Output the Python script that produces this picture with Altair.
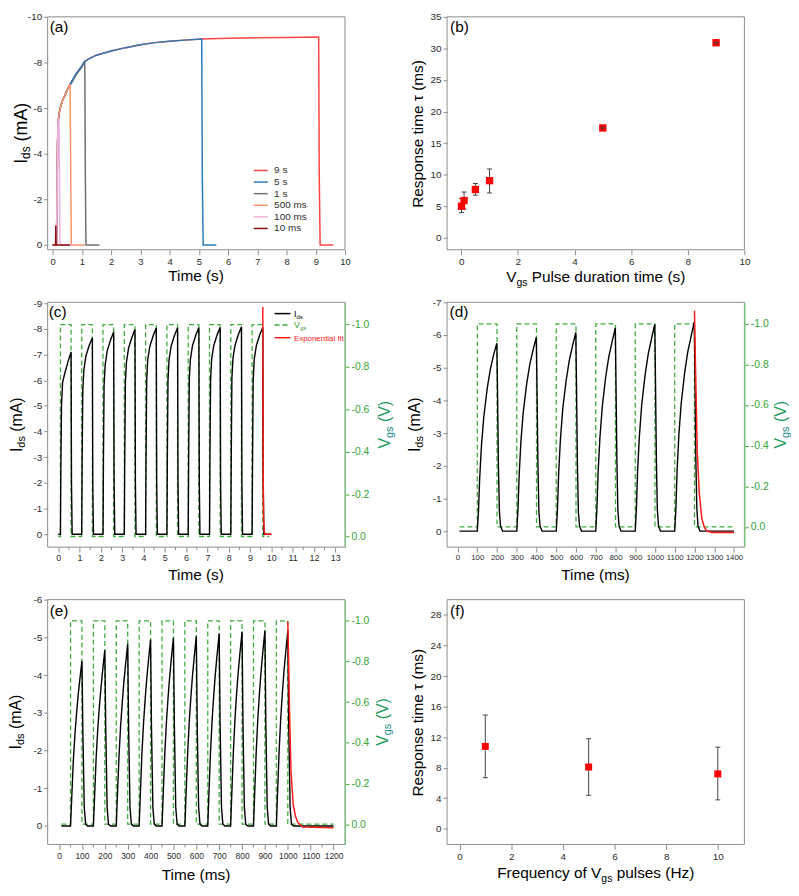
import altair as alt
import pandas as pd

FONT = "Liberation Sans"
FRAME = "#8c8c8c"
TICKLAB = "#2b2b2b"
VGS_LINE = "#3cae3c"
VGS_AXIS = "#7ccb7c"
VGS_LAB = "#36a336"
VGS_T_V = "#21995a"
VGS_T_SUB = "#1a8c8c"
ERR = "#444444"
SQ = "#ff0000"

# ---------------- panel (a): Ids transients for several pulse durations ----------------
A_NAMES = ["9 s", "5 s", "1 s", "500 ms", "100 ms", "10 ms"]
A_COLORS = ["#ff4444", "#2e7bb4", "#707070", "#ff9266", "#eeb0dc", "#8b0f0f"]
A_DRAW_ORDER = [0, 2, 1, 3, 4, 5]
A_T_9S = [0.0, 0.13, 0.15, 0.17, 0.19, 0.22, 0.27, 0.33, 0.40, 0.50, 0.60, 0.80, 1.00, 1.10,
          1.30, 1.50, 2.00, 2.50, 3.00, 3.50, 4.00, 4.50, 5.10, 6.00, 7.00, 8.00, 9.10, 9.12, 9.15, 9.60]
A_I_9S = [0.0, 0.0, -2.0, -4.5, -5.4, -5.75, -6.05, -6.3, -6.5, -6.8, -7.05, -7.5, -7.85, -8.05,
          -8.2, -8.32, -8.5, -8.65, -8.78, -8.87, -8.93, -8.98, -9.03, -9.06, -9.08, -9.10, -9.12, -3.0, 0.0, 0.0]
A_T_5S = [0.0, 0.13, 0.15, 0.17, 0.19, 0.22, 0.27, 0.33, 0.40, 0.50, 0.60, 0.80, 1.00, 1.10,
          1.30, 1.50, 2.00, 2.50, 3.00, 3.50, 4.00, 4.50, 5.10, 5.12, 5.15, 5.60]
A_I_5S = [0.0, 0.0, -2.0, -4.5, -5.4, -5.75, -6.05, -6.3, -6.5, -6.8, -7.05, -7.5, -7.85, -8.05,
          -8.2, -8.32, -8.5, -8.65, -8.78, -8.87, -8.93, -8.98, -9.03, -3.0, 0.0, 0.0]
A_T_1S = [0.0, 0.13, 0.15, 0.17, 0.19, 0.22, 0.27, 0.33, 0.40, 0.50, 0.60, 0.80, 1.00, 1.10,
          1.12, 1.14, 1.60]
A_I_1S = [0.0, 0.0, -2.0, -4.5, -5.4, -5.75, -6.05, -6.3, -6.5, -6.8, -7.0, -7.45, -7.8, -8.05,
          -3.0, 0.0, 0.0]
A_T_500 = [0.0, 0.13, 0.15, 0.17, 0.19, 0.22, 0.27, 0.33, 0.40, 0.50, 0.60, 0.62, 0.64, 1.10]
A_I_500 = [0.0, 0.0, -2.0, -4.5, -5.4, -5.75, -6.05, -6.3, -6.5, -6.8, -7.05, -3.0, 0.0, 0.0]
A_T_100 = [0.0, 0.13, 0.15, 0.17, 0.19, 0.22, 0.235, 0.25, 0.70]
A_I_100 = [0.0, 0.0, -2.0, -4.5, -5.3, -5.55, -2.5, 0.0, 0.0]
A_T_10 = [0.0, 0.10, 0.11, 0.12, 0.60]
A_I_10 = [0.0, 0.0, -0.85, 0.0, 0.0]
A_CURVES = [(A_T_9S, A_I_9S), (A_T_5S, A_I_5S), (A_T_1S, A_I_1S),
            (A_T_500, A_I_500), (A_T_100, A_I_100), (A_T_10, A_I_10)]

# ---------------- panel (b): response time vs pulse duration ----------------
B_X = [0.01, 0.1, 0.5, 1.0, 5.0, 9.0]
B_Y = [5.0, 5.9, 7.65, 9.05, 17.4, 30.9]
B_LO = [4.0, 4.55, 6.75, 7.1, 17.1, 30.6]
B_HI = [6.2, 7.25, 8.6, 10.9, 17.7, 31.2]
B_XERR = [0.0, 0.0, 0.0, 0.0, 0.1, 0.1]

# ---------------- panel (c): 1 Hz pulse train (time in s) ----------------
C_STARTS = [0.1, 1.1, 2.1, 3.1, 4.1, 5.1, 6.1, 7.1, 8.1, 9.1]
C_OFFSETS = [0.0, 0.02, 0.05, 0.10, 0.20, 0.35, 0.50, 0.52, 0.55]
C_PULSES = [
    [0.0, -2.5, -5.0, -5.9, -6.25, -6.7, -7.1, -2.0, 0.0],
    [0.0, -3.0, -5.6, -6.4, -6.95, -7.35, -7.65, -2.0, 0.0],
    [0.0, -3.0, -5.8, -6.6, -7.15, -7.55, -7.87, -2.0, 0.0],
    [0.0, -3.0, -5.9, -6.7, -7.25, -7.65, -7.97, -2.0, 0.0],
    [0.0, -3.0, -6.0, -6.8, -7.32, -7.72, -8.03, -2.0, 0.0],
    [0.0, -3.0, -6.0, -6.8, -7.33, -7.73, -8.04, -2.0, 0.0],
    [0.0, -3.0, -6.0, -6.8, -7.34, -7.74, -8.05, -2.0, 0.0],
    [0.0, -3.0, -6.0, -6.82, -7.35, -7.75, -8.06, -2.0, 0.0],
    [0.0, -3.0, -6.05, -6.85, -7.37, -7.77, -8.08, -2.0, 0.0],
    [0.0, -3.0, -6.0, -6.82, -7.35, -7.75, -8.05, -2.0, 0.0],
]
C_SPAN = [0.0, 10.0]
C_VGS_ON = [0.1, 1.1, 2.1, 3.1, 4.1, 5.1, 6.1, 7.1, 8.1, 9.1]
C_VGS_OFF = [0.6, 1.6, 2.6, 3.6, 4.6, 5.6, 6.6, 7.6, 8.6, 9.6]
C_VGS_SPAN = [0.0, 9.9]
C_FIT_T = [9.60, 9.61, 9.62, 9.64, 9.67, 9.72, 10.0]
C_FIT_I = [-8.85, -5.0, -2.3, -0.6, -0.08, 0.0, 0.0]
C_MINOR = [0.5, 1.5, 2.5, 3.5, 4.5, 5.5, 6.5, 7.5, 8.5, 9.5, 10.5, 11.5, 12.5]

# ---------------- panel (d): 5 Hz pulse train (ms) ----------------
D_STARTS = [100, 300, 500, 700, 900, 1100]
D_OFFSETS = [0, 6, 12, 21, 33, 50, 66, 83, 99, 102, 107, 112, 118, 128]
D_PULSES = [
    [0.0, -0.6, -1.6, -2.6, -3.5, -4.35, -4.95, -5.4, -5.75, -4.5, -2.0, -0.6, -0.15, 0.0],
    [0.0, -0.65, -1.7, -2.75, -3.65, -4.5, -5.1, -5.55, -5.93, -4.6, -2.1, -0.6, -0.15, 0.0],
    [0.0, -0.65, -1.75, -2.8, -3.75, -4.6, -5.22, -5.68, -6.08, -4.7, -2.1, -0.6, -0.15, 0.0],
    [0.0, -0.7, -1.8, -2.85, -3.8, -4.7, -5.33, -5.8, -6.22, -4.8, -2.2, -0.65, -0.15, 0.0],
    [0.0, -0.7, -1.85, -2.9, -3.88, -4.78, -5.42, -5.9, -6.33, -4.9, -2.2, -0.65, -0.15, 0.0],
    [0.0, -0.7, -1.85, -2.95, -3.92, -4.83, -5.48, -5.96, -6.4, -5.0, -2.2, -0.7, -0.15, 0.0],
]
D_SPAN = [10, 1400]
D_VGS_ON = [100, 300, 500, 700, 900, 1100]
D_VGS_OFF = [200, 400, 600, 800, 1000, 1200]
D_VGS_SPAN = [10, 1400]
D_FIT_T = [1200, 1204, 1208, 1214, 1224, 1237, 1250, 1262, 1290, 1400]
D_FIT_I = [-6.74, -5.4, -4.23, -2.42, -1.2, -0.39, -0.12, 0.0, 0.04, 0.04]

# ---------------- panel (e): 10 Hz pulse train (ms) ----------------
E_STARTS = [50, 150, 250, 350, 450, 550, 650, 750, 850, 950]
E_OFFSETS = [0, 5, 12, 19, 26, 33, 41, 50, 54, 60, 66, 75]
E_PULSES = [
    [0.0, -0.7, -1.7, -2.4, -2.95, -3.45, -3.9, -4.37, -2.5, -0.5, -0.05, 0.0],
    [0.0, -0.75, -1.8, -2.55, -3.15, -3.65, -4.15, -4.66, -2.6, -0.5, -0.05, 0.0],
    [0.0, -0.8, -1.85, -2.65, -3.25, -3.8, -4.3, -4.83, -2.6, -0.5, -0.05, 0.0],
    [0.0, -0.8, -1.9, -2.7, -3.33, -3.88, -4.4, -4.94, -2.6, -0.5, -0.05, 0.0],
    [0.0, -0.8, -1.9, -2.72, -3.36, -3.92, -4.45, -4.99, -2.7, -0.5, -0.05, 0.0],
    [0.0, -0.82, -1.92, -2.75, -3.4, -3.96, -4.49, -5.03, -2.7, -0.5, -0.05, 0.0],
    [0.0, -0.83, -1.95, -2.8, -3.45, -4.02, -4.55, -5.10, -2.7, -0.5, -0.05, 0.0],
    [0.0, -0.84, -1.97, -2.83, -3.49, -4.06, -4.6, -5.15, -2.7, -0.5, -0.05, 0.0],
    [0.0, -0.85, -1.98, -2.85, -3.51, -4.09, -4.63, -5.18, -2.7, -0.5, -0.05, 0.0],
    [0.0, -0.85, -1.98, -2.85, -3.5, -4.08, -4.62, -5.17, -2.7, -0.5, -0.05, 0.0],
]
E_SPAN = [10, 1200]
E_VGS_ON = [50, 150, 250, 350, 450, 550, 650, 750, 850, 950]
E_VGS_OFF = [100, 200, 300, 400, 500, 600, 700, 800, 900, 1000]
E_VGS_SPAN = [10, 1200]
E_FIT_T = [1000, 1004, 1007, 1014, 1024, 1034, 1043, 1064, 1200]
E_FIT_I = [-5.43, -4.3, -3.18, -1.42, -0.55, -0.25, -0.1, 0.03, 0.05]
E_MINOR = [50, 150, 250, 350, 450, 550, 650, 750, 850, 950, 1050, 1150]

# ---------------- panel (f): response time vs frequency ----------------
F_X = [1, 5, 10]
F_Y = [10.8, 8.1, 7.2]
F_LO = [6.7, 4.4, 3.8]
F_HI = [14.9, 11.8, 10.7]

VGS_HIGH, VGS_LOW = -1.0, 0.0

# ---------------- layout ----------------
W = 300
H1, H2, H3 = 235, 247, 247
ONE = pd.DataFrame({"k": [0]})

AW = {ch: 556 for ch in "0123456789"}
AW.update({" ": 278, "(": 333, ")": 333, "-": 333, ".": 278, "\u03c4": 480})
AW.update(dict(zip("ABCDEFGHIJKLMNOPQRSTUVWXYZ",
                   [667, 667, 722, 722, 667, 611, 778, 722, 278, 500, 667, 556, 833, 722, 778, 667,
                    778, 722, 667, 611, 722, 667, 944, 667, 667, 611])))
AW.update(dict(zip("abcdefghijklmnopqrstuvwxyz",
                   [556, 556, 500, 556, 556, 278, 556, 556, 222, 222, 500, 222, 833, 556, 556, 556,
                    556, 333, 500, 278, 556, 500, 722, 500, 500, 500])))


def tw(s, size):
    return sum(AW.get(ch, 556) for ch in s) * size / 1000.0


def rich(parts, x, y, angle=0, center=True):
    total = sum(tw(t, s) for t, s, _, _ in parts)
    off = -total / 2 if center else 0.0
    out = []
    for t, s, dy, col in parts:
        lead = len(t) - len(t.lstrip(" "))
        off += tw(" " * lead, s)
        body = t.lstrip(" ")
        kw = dict(text=body, font=FONT, fontSize=s, color=col, align="left",
                  baseline="alphabetic", dx=round(off, 2), dy=dy)
        if angle:
            kw["angle"] = angle
        out.append(alt.Chart(ONE).mark_text(**kw).encode(x=alt.value(x), y=alt.value(y)))
        off += tw(body, s)
    return out


def frame(w, h):
    return alt.Chart(ONE).mark_rect(fillOpacity=0, stroke=FRAME, strokeWidth=1).encode(
        x=alt.value(0), x2=alt.value(w), y=alt.value(0), y2=alt.value(h))


def tag(s, x, y, size=15.5):
    return alt.Chart(ONE).mark_text(text=s, font=FONT, fontSize=size, align="left",
                                    baseline="top", color="black").encode(
        x=alt.value(x), y=alt.value(y))


def axis(values, fmt, size=10, orient=None, tsize=5, right=False):
    kw = dict(values=values,
              labelExpr="replace(format(datum.value, '%s'), '\u2212', '-')" % fmt,
              labelFontSize=size, labelFont=FONT, labelColor=TICKLAB,
              tickColor=FRAME, tickSize=tsize, tickWidth=1, domain=False, grid=False,
              title=None, labelPadding=2, labelOverlap=False, labelFlush=False)
    if orient:
        kw["orient"] = orient
    if right:
        kw.update(labelColor=VGS_LAB, tickColor=VGS_LINE, domain=True,
                  domainColor=VGS_AXIS, domainWidth=1.2, zindex=1)
    return alt.Axis(**kw)


def sc(dom, rev=False):
    return alt.Scale(domain=dom, reverse=rev, nice=False, zero=False)


def ids_df(starts, offs, pulses, span):
    ts, vs = [span[0]], [0.0]
    for s, p in zip(starts, pulses):
        for o, v in zip(offs, p):
            ts.append(s + o)
            vs.append(v)
    ts.append(span[1])
    vs.append(0.0)
    return pd.DataFrame({"t": ts, "i": vs, "o": range(len(ts))})


def vgs_df(on, off, span):
    ts, vs = [span[0]], [VGS_LOW]
    for a, b in zip(on, off):
        ts += [a, a, b, b]
        vs += [VGS_LOW, VGS_HIGH, VGS_HIGH, VGS_LOW]
    ts.append(span[1])
    vs.append(VGS_LOW)
    return pd.DataFrame({"t": ts, "v": vs, "o": range(len(ts))})


# ---------------- panel (a) ----------------
def XA(f):
    return alt.X(f + ":Q", scale=sc([-0.17, 10]), axis=axis(list(range(0, 11)), "d", 9.5))


def YA(f):
    return alt.Y(f + ":Q", scale=sc([-10, 0.21], True),
                 axis=axis([-10, -8, -6, -4, -2, 0], "d", 10, orient="left", tsize=4))


a_layers = [frame(W, H1)]
for idx in A_DRAW_ORDER:
    t, i = A_CURVES[idx]
    df = pd.DataFrame({"t": t, "i": i, "o": range(len(t))})
    a_layers.append(alt.Chart(df).mark_line(color=A_COLORS[idx], strokeWidth=1.5).encode(
        x=XA("t"), y=YA("i"), order="o:Q"))
for k, (name, col) in enumerate(zip(A_NAMES, A_COLORS)):
    py = 155.0 + 11.7 * k
    a_layers.append(alt.Chart(ONE).mark_rule(color=col, strokeWidth=1.5).encode(
        x=alt.value(208), x2=alt.value(222), y=alt.value(py)))
    a_layers.append(alt.Chart(ONE).mark_text(text=name, font=FONT, fontSize=10, color=TICKLAB,
                                             align="left", baseline="middle").encode(
        x=alt.value(228.5), y=alt.value(py)))
a_layers.append(tag("(a)", 2, 3))
a_layers += rich([("I", 18, 0, "black"), ("ds", 12, 3, "black"), (" (mA)", 18, 0, "black")],
                 -21, H1 / 2, angle=270)
a_layers += rich([("Time (s)", 15.5, 0, "black")], W / 2, H1 + 32)
panel_a = alt.layer(*a_layers).properties(width=W, height=H1)


# ---------------- scatter panels (b), (f) ----------------
def scatter_panel(xs, ys, lo, hi, xerr, xdom, xvals, ydom, yvals, H, label, lab_xy, ytitle, xtitle_parts, xt_y, sq):
    df = pd.DataFrame({"x": xs, "y": ys, "lo": lo, "hi": hi, "xe": xerr})
    df["xlo"] = df["x"] - df["xe"]
    df["xhi"] = df["x"] + df["xe"]

    def X(f):
        return alt.X(f + ":Q", scale=sc(xdom), axis=axis(xvals, "d", 10))

    def Y(f):
        return alt.Y(f + ":Q", scale=sc(ydom), axis=axis(yvals, "d", 10, orient="left", tsize=4))

    layers = [frame(W, H)]
    layers.append(alt.Chart(df).mark_rule(color=ERR, strokeWidth=1).encode(
        x=X("x"), y=Y("lo"), y2=alt.Y2("hi")))
    for f in ["lo", "hi"]:
        layers.append(alt.Chart(df).mark_tick(color=ERR, orient="horizontal", size=5,
                                              thickness=1, opacity=1).encode(x=X("x"), y=Y(f)))
    layers.append(alt.Chart(df).mark_square(size=sq, color=SQ, opacity=1).encode(
        x=X("x"), y=Y("y")))
    small = df[df["xe"] > 0]
    if len(small):
        layers.append(alt.Chart(small).mark_rule(color=ERR, strokeWidth=1).encode(
            x=X("xlo"), x2=alt.X2("xhi"), y=Y("y")))
        layers.append(alt.Chart(small).mark_rule(color=ERR, strokeWidth=1).encode(
            x=X("x"), y=Y("lo"), y2=alt.Y2("hi")))
    layers.append(tag(label, *lab_xy))
    layers += rich([(ytitle, 15.5, 0, "black")], -24, H / 2, angle=270)
    layers += rich(xtitle_parts, W / 2, H + xt_y)
    return alt.layer(*layers).properties(width=W, height=H)


panel_b = scatter_panel(B_X, B_Y, B_LO, B_HI, B_XERR, [-0.5, 10], [0, 2, 4, 6, 8, 10],
                        [-1.9, 35], [0, 5, 10, 15, 20, 25, 30, 35], H1, "(b)", (3, 3),
                        "Response time \u03c4 (ms)",
                        [("V", 15.5, 0, "black"), ("gs", 10.5, 3.5, "black"),
                         (" Pulse duration time (s)", 15.5, 0, "black")], 33, 55)

panel_f = scatter_panel(F_X, F_Y, F_LO, F_HI, [0.0, 0.0, 0.0], [-0.48, 11.03], [0, 2, 4, 6, 8, 10],
                        [-2.03, 30], [0, 4, 8, 12, 16, 20, 24, 28], H3, "(f)", (3, 4.5),
                        "Response time \u03c4 (ms)",
                        [("Frequency of V", 15.5, 0, "black"), ("gs", 10.5, 3.5, "black"),
                         (" pulses (Hz)", 15.5, 0, "black")], 34, 50)


# ---------------- pulse panels (c), (d), (e) ----------------
def pulse_panel(H, xdom, xvals, xsize, ydom, yvals, vdom, dfi, dfv, dff, label, lab_xy,
                xtitle, xt_y, yt_x, rt_x, minor=None, legend=False):
    def X(f):
        return alt.X(f + ":Q", scale=sc(xdom), axis=axis(xvals, "d", xsize))

    def YL(f):
        return alt.Y(f + ":Q", scale=sc(ydom, True), axis=axis(yvals, "d", 10, orient="left", tsize=4))

    YR = alt.Y("v:Q", scale=sc(vdom, True),
               axis=axis([-1.0, -0.8, -0.6, -0.4, -0.2, 0.0], ".1f", 10.5, orient="right",
                         tsize=4, right=True))
    vgs = alt.Chart(dfv).mark_line(color=VGS_LINE, strokeWidth=1.3, strokeDash=[5, 3]).encode(
        x=X("t"), y=YR, order="o:Q")
    ids = alt.Chart(dfi).mark_line(color="black", strokeWidth=1.4).encode(
        x=X("t"), y=YL("i"), order="o:Q")
    fit = alt.Chart(dff).mark_line(color="#ff1a1a", strokeWidth=1.5).encode(
        x=X("t"), y=YL("i"), order="o:Q")
    layers = [frame(W, H), vgs, alt.layer(ids, fit)]
    if minor:
        layers.append(alt.Chart(pd.DataFrame({"t": minor})).mark_rule(color=FRAME, strokeWidth=1).encode(
            x=X("t"), y=alt.value(H), y2=alt.value(H + 3)))
    layers.append(tag(label, *lab_xy))
    layers += rich([("I", 16, 0, "black"), ("ds", 11, 3, "black"), (" (mA)", 16, 0, "black")],
                   yt_x, H / 2, angle=270)
    layers += rich([(xtitle, 15.5, 0, "black")], W / 2, H + xt_y)
    layers += rich([("V", 16, 0, VGS_T_V), ("gs", 11, 3, VGS_T_SUB), (" (V)", 16, 0, VGS_T_V)],
                   W + rt_x, H / 2, angle=270)
    if legend:
        rows = [11.4, 23.0, 35.7]
        layers.append(alt.Chart(ONE).mark_rule(color="black", strokeWidth=1.5).encode(
            x=alt.value(229), x2=alt.value(245), y=alt.value(rows[0])))
        layers.append(alt.Chart(ONE).mark_rule(color=VGS_LINE, strokeWidth=1.5, strokeDash=[5, 3]).encode(
            x=alt.value(229), x2=alt.value(245), y=alt.value(rows[1])))
        layers.append(alt.Chart(ONE).mark_rule(color="#ff1a1a", strokeWidth=1.5).encode(
            x=alt.value(229), x2=alt.value(245), y=alt.value(rows[2])))
        layers += rich([("I", 9, 0, "black"), ("ds", 6, 2, "black")], 248.5, rows[0] + 3, center=False)
        layers += rich([("V", 9, 0, VGS_LAB), ("gs", 6, 2, VGS_LAB)], 248.5, rows[1] + 3, center=False)
        layers += rich([("Exponential fit", 8, 0, "#ff1a1a")], 248.5, rows[2] + 3, center=False)
    return alt.layer(*layers).resolve_scale(y="independent").properties(width=W, height=H)


panel_c = pulse_panel(H2, [-0.5, 13.46], list(range(0, 14)), 9,
                      [-9.03, 0.5], list(range(-9, 1)), [-1.105, 0.05],
                      ids_df(C_STARTS, C_OFFSETS, C_PULSES, C_SPAN),
                      vgs_df(C_VGS_ON, C_VGS_OFF, C_VGS_SPAN),
                      pd.DataFrame({"t": C_FIT_T, "i": C_FIT_I, "o": range(len(C_FIT_T))}),
                      "(c)", (1, 3), "Time (s)", 33, -26, 45, minor=C_MINOR, legend=True)

panel_d = pulse_panel(H2, [-53, 1453], list(range(0, 1401, 100)), 8,
                      [-7.0, 0.49], list(range(-7, 1)), [-1.106, 0.1],
                      ids_df(D_STARTS, D_OFFSETS, D_PULSES, D_SPAN),
                      vgs_df(D_VGS_ON, D_VGS_OFF, D_VGS_SPAN),
                      pd.DataFrame({"t": D_FIT_T, "i": D_FIT_I, "o": range(len(D_FIT_T))}),
                      "(d)", (2.5, 2.5), "Time (ms)", 33, -27, 42)

panel_e = pulse_panel(H3, [-50, 1250], list(range(0, 1201, 100)), 8.5,
                      [-6.0, 0.49], list(range(-6, 1)), [-1.104, 0.0995],
                      ids_df(E_STARTS, E_OFFSETS, E_PULSES, E_SPAN),
                      vgs_df(E_VGS_ON, E_VGS_OFF, E_VGS_SPAN),
                      pd.DataFrame({"t": E_FIT_T, "i": E_FIT_I, "o": range(len(E_FIT_T))}),
                      "(e)", (2, 5), "Time (ms)", 36, -27, 43, minor=E_MINOR)

chart = (alt.concat(panel_a, panel_b, panel_c, panel_d, panel_e, panel_f,
                    columns=2, spacing={"row": 53, "column": 103}, bounds="flush")
         .properties(padding=0)
         .configure(font=FONT)
         .configure_view(stroke=None))

chart.save("out.html", embed_options={"renderer": "svg", "actions": False})
